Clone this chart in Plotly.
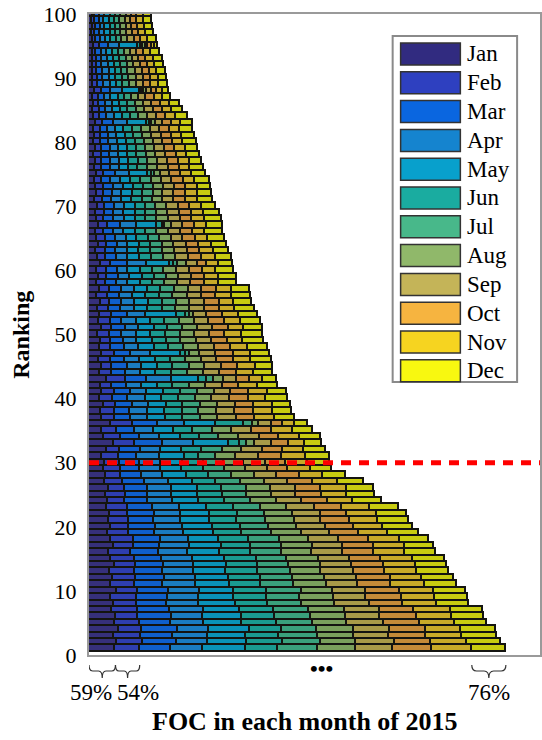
import plotly.graph_objects as go

months = ["Jan", "Feb", "Mar", "Apr", "May", "Jun", "Jul", "Aug", "Sep", "Oct", "Nov", "Dec"]
rank = list(range(1, 101))

jan = [59,62,55,66,58,60,52,56,50,62, 48,54,46,58,50,44,56,48,42,50,
       44,46,40,42,38,44,36,38,34,36, 30,40,55,34,30,48,28,26,34,24,
       30,26,40,24,30,22,28,24,26,20, 28,22,24,20,26,18,24,18,22,18,
       26,20,16,22,18,16,22,18,16,20, 14,18,16,14,18,14,16,12,16,12,
       14,12,16,12,10,12,10,14,8,10, 8,10,8,8,12,8,6,8,6,8]
feb = [54,58,60,52,56,50,58,52,56,48, 54,50,56,46,52,50,44,52,48,40,
       46,42,46,38,44,36,40,34,38,34, 36,30,48,38,32,50,30,32,26,30,
       28,26,42,28,22,28,30,26,22,26, 24,26,28,24,20,24,22,20,18,22,
       24,18,22,18,20,18,20,16,20,16, 18,16,18,16,16,16,14,16,14,14,
       12,14,16,12,14,10,12,14,12,10, 10,8,10,8,12,8,8,8,8,6]
mar = [70,75,72,80,68,74,70,66,70,68, 64,66,62,64,60,62,58,60,58,60,
       54,58,56,52,50,52,48,46,42,44, 40,46,62,42,40,56,36,34,38,34,
       36,32,48,30,34,30,36,30,30,28, 30,26,34,28,28,26,28,24,26,24,
       36,24,22,24,22,22,30,22,20,22, 20,20,22,20,26,18,20,18,18,18,
       18,16,24,16,14,16,14,22,14,12, 14,12,12,12,20,10,10,10,10,10]
apr = [72,70,78,70,74,70,76,72,68,70, 72,68,70,66,70,64,68,62,64,60,
       62,58,60,56,54,52,54,48,46,46, 52,44,70,44,42,60,38,40,36,38,
       36,34,56,34,32,34,44,32,30,32, 30,34,40,30,28,30,28,26,26,24,
       44,26,26,24,24,22,36,24,22,22, 22,20,22,22,32,20,20,20,18,20,
       18,18,30,18,16,16,14,26,14,14, 14,14,12,12,26,12,12,10,10,12]
may = [95,88,85,90,84,86,80,82,78,76, 76,74,72,74,70,72,70,68,66,66,
       64,66,60,58,56,58,54,52,48,50, 56,48,78,46,46,70,40,38,40,36,
       38,36,60,34,36,36,66,34,34,32, 34,30,70,30,32,30,30,28,28,28,
       50,26,26,26,24,26,44,24,26,24, 22,24,22,22,40,22,20,22,20,20,
       20,18,44,18,18,16,16,38,14,14, 14,14,14,14,40,12,12,12,12,12]
jun = [72,80,74,72,78,74,76,70,74,72, 70,72,70,68,72,68,66,66,64,62,
       60,62,62,56,56,54,52,50,48,46, 30,44,24,44,42,62,38,40,36,38,
       36,34,18,36,34,32,12,32,32,34, 30,32,20,32,30,30,28,26,26,26,
       10,26,26,24,26,24,12,24,22,22, 24,22,22,22,8,20,22,20,20,20,
       18,20,6,18,16,16,14,4,14,16, 14,14,14,12,6,12,12,12,12,12]
jul = [89,84,86,78,82,80,78,76,74,78, 72,70,74,70,68,70,68,70,66,64,
       64,60,60,58,54,56,54,50,48,44, 38,46,14,42,44,20,40,36,40,38,
       38,36,14,34,36,34,8,34,32,32, 34,32,10,30,32,30,32,28,28,26,
       8,28,26,26,24,24,6,24,26,24, 22,24,22,24,6,22,20,22,20,20,
       20,20,4,18,18,18,16,4,16,14, 14,14,14,14,4,12,12,12,12,12]
aug = [84,78,80,82,76,78,80,74,76,70, 74,72,68,72,70,66,70,64,66,62,
       64,62,58,58,56,54,54,52,46,46, 46,44,20,44,42,12,38,40,38,36,
       38,36,22,36,34,36,24,32,34,32, 32,34,8,32,30,32,30,28,26,28,
       20,26,28,26,26,26,16,26,24,24, 24,22,24,22,14,22,22,20,22,20,
       20,20,10,20,18,18,16,8,14,16, 16,14,14,14,6,14,12,12,12,12]
sep = [83,86,78,80,82,76,78,78,72,74, 70,72,72,68,70,70,66,68,62,64,
       60,62,62,56,54,56,52,50,48,48, 50,46,36,46,46,30,42,40,40,40,
       36,38,30,36,38,34,36,36,34,34, 34,32,30,32,32,32,30,30,30,28,
       24,28,28,28,26,26,24,26,26,26, 24,24,24,24,20,24,22,22,22,22,
       22,20,16,20,20,18,16,10,16,16, 16,16,14,14,6,14,14,12,12,12]
oct_ = [86,80,84,82,80,82,76,74,80,76, 72,74,70,72,68,70,68,66,66,62,
        64,60,60,58,58,54,56,50,46,46, 52,44,38,44,44,24,40,42,40,42,
        40,36,28,38,36,38,40,36,36,34, 36,34,34,34,34,32,34,30,28,30,
        22,30,28,28,28,28,26,26,28,24, 26,26,24,26,24,24,24,24,22,22,
        22,22,20,20,20,20,18,12,16,16, 16,16,16,14,8,14,14,14,14,12]
nov = [89,82,80,76,78,78,82,76,74,74, 76,70,72,70,72,68,70,68,64,66,
       62,66,62,56,56,58,54,52,50,48, 54,48,36,46,46,28,44,42,42,38,
       42,42,30,38,40,38,38,38,34,36, 34,36,36,34,32,34,32,32,32,30,
       26,30,30,28,28,26,28,28,26,28, 26,26,26,24,26,24,24,22,24,22,
       24,22,20,22,20,20,18,12,18,18, 16,16,16,16,6,16,14,14,14,14]
dec = [76,75,77,79,71,72,72,71,72,72, 72,71,70,70,71,69,65,66,70,66,
       69,67,65,65,62,62,59,51,48,50, 52,49,39,46,46,29,44,43,41,50,
       44,46,32,41,37,45,42,44,45,47, 41,46,42,45,40,44,40,39,39,40,
       30,36,35,33,36,40,34,38,35,32, 34,31,29,33,30,30,27,29,26,30,
       28,29,25,26,25,22,18,14,20,17, 19,19,20,20,7,19,18,18,18,18]

series = [jan, feb, mar, apr, may, jun, jul, aug, sep, oct_, nov, dec]

legend_colors = ["#312b80", "#2e40c0", "#0a66e0", "#1584cf", "#08a0cc", "#1aaca0",
                 "#48b88a", "#90b86a", "#c4b458", "#f6b440", "#f6d420", "#f8f810"]
bar_colors = ["#36307a", "#2e3eb0", "#0f5fcc", "#1a7cc0", "#0a92b8", "#1a9a90",
              "#3aa07c", "#7aa05c", "#a89a48", "#c48a38", "#c8aa28", "#c8cc10"]

threshold_rank = 30
brace_labels = ["59%", "54%", "76%"]
x_title = "FOC in each month of 2015"
y_title = "Ranking"

SERIF = "Liberation Serif"

fig = go.Figure()
for name, vals, col in zip(months, series, bar_colors):
    fig.add_trace(go.Bar(
        y=rank, x=vals, orientation="h", name=name, showlegend=False,
        marker=dict(color=col, line=dict(color="#141410", width=1.8)),
        width=1.0,
    ))

# plot-area geometry (pixels) for layout helpers
L, T, W, H = 89, 14, 453, 641
XMAX = 1005


def px(x):
    return (x - L) / W


def py(y):
    return (T + H - y) / H


shapes = []
annotations = []

# threshold line
shapes.append(dict(type="line", xref="paper", yref="y", x0=0, x1=1,
                   y0=threshold_rank, y1=threshold_rank, layer="above",
                   line=dict(color="#ff0000", width=5, dash="10px,8px")))

# manual legend
shapes.append(dict(type="rect", xref="paper", yref="paper",
                   x0=px(394), x1=px(519), y0=py(382), y1=py(36),
                   line=dict(color="#8a8a8a", width=2), fillcolor="white", layer="above"))
for i, (name, col) in enumerate(zip(months, legend_colors)):
    top = 43 + i * 28.8
    shapes.append(dict(type="rect", xref="paper", yref="paper",
                       x0=px(402), x1=px(462), y0=py(top + 22), y1=py(top),
                       line=dict(color="#333333", width=1.5), fillcolor=col, layer="above"))
    annotations.append(dict(xref="paper", yref="paper", x=px(467), y=py(top + 11),
                            xanchor="left", yanchor="middle", showarrow=False, text=name,
                            font=dict(family=SERIF, size=23, color="black")))


def brace(x0, x1, ytop, ymid, ytip):
    xm = (x0 + x1) / 2
    r = (x1 - x0) * 0.14
    return (f"M {x0},{ytop} Q {x0},{ymid} {x0 + r},{ymid} L {xm - r},{ymid} "
            f"Q {xm},{ymid} {xm},{ytip} Q {xm},{ymid} {xm + r},{ymid} "
            f"L {x1 - r},{ymid} Q {x1},{ymid} {x1},{ytop}")


row1 = [s[0] for s in series]
total1 = sum(row1)
spans = [(0, row1[0]), (row1[0], row1[0] + row1[1]), (total1 - row1[-1], total1)]
shifts = [-11, 10, 0]
for (a, b), lab, sh in zip(spans, brace_labels, shifts):
    shapes.append(dict(type="path", xref="x", yref="paper",
                       path=brace(a, b, py(665), py(671), py(678)),
                       line=dict(color="#333333", width=1.2)))
    annotations.append(dict(xref="x", yref="paper", x=(a + b) / 2, y=py(692), xshift=sh,
                            showarrow=False, text=lab, xanchor="center", yanchor="middle",
                            font=dict(family=SERIF, size=23, color="black")))

annotations.append(dict(xref="paper", yref="paper", x=px(323), y=py(683), showarrow=False,
                        text="<b>•••</b>", font=dict(family=SERIF, size=22, color="black")))
annotations.append(dict(xref="paper", yref="paper", x=px(306), y=py(722), showarrow=False,
                        text=f"<b>{x_title}</b>", xanchor="center", yanchor="middle",
                        font=dict(family=SERIF, size=26, color="black")))
annotations.append(dict(xref="paper", yref="paper", x=px(20), y=0.5, showarrow=False,
                        text=f"<b>{y_title}</b>", textangle=-90, xanchor="center", yanchor="middle",
                        font=dict(family=SERIF, size=24, color="black")))

fig.update_layout(
    width=542, height=740,
    margin=dict(l=L, r=542 - L - W, t=T, b=740 - T - H),
    barmode="stack", bargap=0,
    plot_bgcolor="white", paper_bgcolor="white",
    showlegend=False,
    font=dict(family=SERIF),
    shapes=shapes, annotations=annotations,
    xaxis=dict(range=[0, XMAX], showticklabels=False, ticks="", showgrid=False, zeroline=False,
               showline=True, mirror=True, linecolor="#9a9a9a", linewidth=2),
    yaxis=dict(range=[0, 100], tickvals=list(range(0, 101, 10)), ticks="", showgrid=False,
               zeroline=False, showline=True, mirror=True, linecolor="#9a9a9a", linewidth=2,
               tickfont=dict(family=SERIF, size=22, color="black"), ticklabelstandoff=6),
)

fig.write_html("out.html")
